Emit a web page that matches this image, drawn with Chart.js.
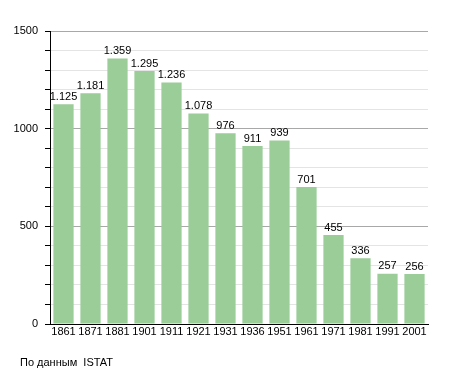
<!DOCTYPE html>
<html>
<head>
<meta charset="utf-8">
<script src="https://cdn.jsdelivr.net/npm/chart.js@4/dist/chart.umd.min.js"></script>
<style>
html,body{margin:0;padding:0;background:#fff;}
#wrap{position:relative;width:455px;height:373px;}
</style>
</head>
<body>
<div id="wrap"><canvas id="c" width="455" height="373"></canvas></div>
<script>
const years = ["1861","1871","1881","1901","1911","1921","1931","1936","1951","1961","1971","1981","1991","2001"];
const population = [1125,1181,1359,1295,1236,1078,976,911,939,701,455,336,257,256];
const footnote = "По данным  ISTAT";

const FONT = "'Liberation Sans', Arial, sans-serif";

function fmt(v){
  const s = String(v);
  return s.length > 3 ? s.slice(0, s.length-3) + "." + s.slice(-3) : s;
}

const labelPlugin = {
  id: 'valueLabels',
  afterDatasetsDraw(chart){
    const ctx = chart.ctx;
    const meta = chart.getDatasetMeta(0);
    ctx.save();
    ctx.font = "11px " + FONT;
    ctx.fillStyle = "#000";
    ctx.textAlign = "center";
    ctx.textBaseline = "bottom";
    meta.data.forEach((bar, i) => {
      ctx.fillText(fmt(chart.data.datasets[0].data[i]), bar.x, bar.y - 2);
    });
    ctx.restore();
  },
  afterDraw(chart){
    const ctx = chart.ctx;
    ctx.save();
    ctx.font = "11px " + FONT;
    ctx.fillStyle = "#000";
    ctx.textAlign = "left";
    ctx.textBaseline = "alphabetic";
    ctx.fillText(footnote, 20, 366);
    ctx.restore();
  }
};

new Chart(document.getElementById('c'), {
  type: 'bar',
  data: {
    labels: years,
    datasets: [{
      data: population,
      backgroundColor: '#9bcd98',
      borderWidth: 0,
      barPercentage: 0.75,
      categoryPercentage: 1.0
    }]
  },
  options: {
    responsive: false,
    animation: false,
    events: [],
    layout: { padding: { left: 0, right: 27, top: 31, bottom: 31 } },
    plugins: { legend: { display: false }, tooltip: { enabled: false } },
    scales: {
      x: {
        grid: { display: false, drawTicks: false },
        border: { display: true, color: '#000', width: 1 },
        ticks: { color: '#000', font: { family: FONT, size: 11 }, padding: 1, maxRotation: 0, autoSkip: false },
        afterFit(scale){ scale.height = 18; }
      },
      y: {
        min: 0, max: 1500,
        grid: {
          color: (c) => (c.tick && c.tick.value % 500 === 0) ? '#a8a8a8' : '#e4e4e4',
          tickColor: '#000',
          tickLength: 5,
          lineWidth: 1
        },
        border: { display: true, color: '#000', width: 1 },
        ticks: {
          stepSize: 100,
          autoSkip: false,
          color: '#000',
          padding: 7,
          font: { family: FONT, size: 11 },
          callback: (v) => (v % 500 === 0 ? String(v) : '')
        },
        afterFit(scale){ scale.width = 50; }
      }
    }
  },
  plugins: [labelPlugin]
});
</script>
</body>
</html>
